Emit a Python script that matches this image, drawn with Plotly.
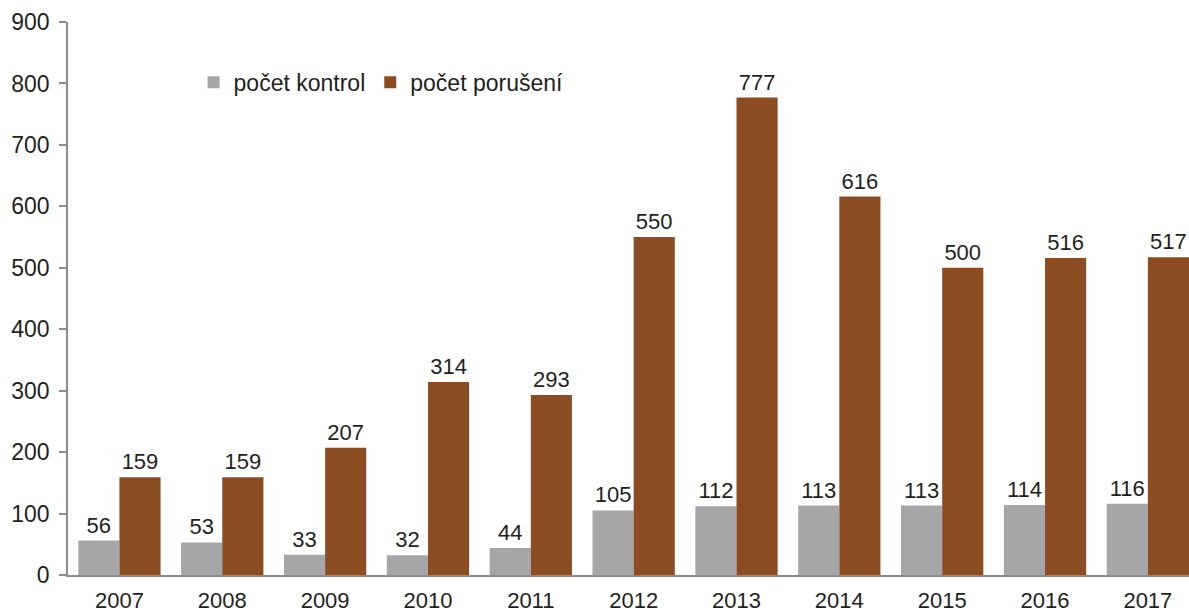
import plotly.graph_objects as go

years = ["2007", "2008", "2009", "2010", "2011", "2012", "2013", "2014", "2015", "2016", "2017"]
kontrol = [56, 53, 33, 32, 44, 105, 112, 113, 113, 114, 116]
poruseni = [159, 159, 207, 314, 293, 550, 777, 616, 500, 516, 517]
y_ticks = [0, 100, 200, 300, 400, 500, 600, 700, 800, 900]

font_family = "Liberation Sans, Arial, sans-serif"
text_color = "#231F20"

fig = go.Figure()
fig.add_trace(go.Bar(
    x=years, y=kontrol, name="počet kontrol",
    marker=dict(color="#A6A6A9", line=dict(width=0)),
    text=kontrol, textposition="outside", cliponaxis=False,
    textfont=dict(size=22, color=text_color, family=font_family),
))
fig.add_trace(go.Bar(
    x=years, y=poruseni, name="počet porušení",
    marker=dict(color="#8B4C22", line=dict(width=0)),
    text=poruseni, textposition="outside", cliponaxis=False,
    textfont=dict(size=22, color=text_color, family=font_family),
))

fig.update_layout(
    width=1189, height=613,
    margin=dict(l=68, r=0, t=22, b=38, autoexpand=False),
    paper_bgcolor="white", plot_bgcolor="white",
    barmode="group", bargap=0.2, bargroupgap=0,
    font=dict(family=font_family, size=23, color=text_color),
    showlegend=True,
    legend=dict(orientation="h", x=0.112, y=0.891, xanchor="left", yanchor="middle",
                font=dict(size=23, color=text_color),
                traceorder="normal", bgcolor="rgba(0,0,0,0)"),
)
fig.update_xaxes(
    type="category", range=[-0.5, 10.4], automargin=False,
    showline=True, linecolor="#8C8C8C", linewidth=1.5,
    ticks="", showgrid=False, tickfont=dict(size=22, color=text_color),
    ticklabelstandoff=5,
)
fig.update_yaxes(
    range=[0, 900], tickvals=y_ticks, automargin=False,
    showline=True, linecolor="#8C8C8C", linewidth=1.5,
    ticks="outside", ticklen=7, tickcolor="#8C8C8C", tickwidth=1.5,
    showgrid=False, zeroline=False, tickfont=dict(size=23, color=text_color),
    ticklabelstandoff=5,
)

fig.write_html(
    "out.html",
    config={"displayModeBar": False},
    post_script="document.body.style.margin='0';document.body.style.overflow='hidden';",
)
